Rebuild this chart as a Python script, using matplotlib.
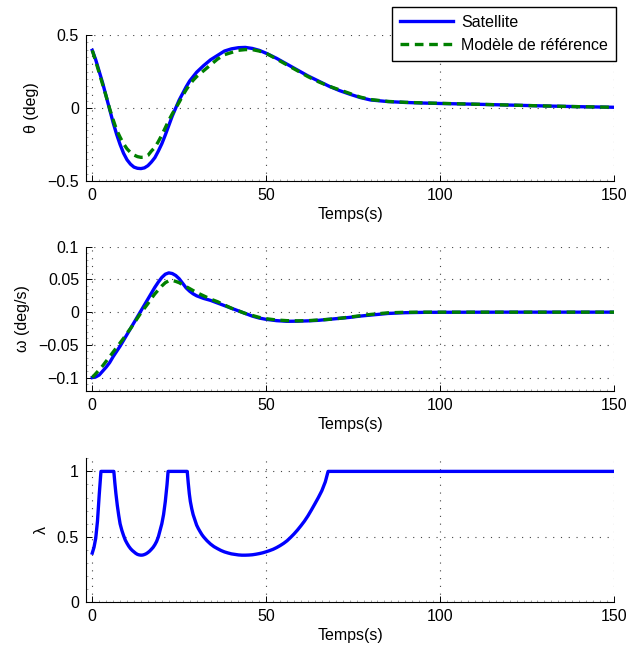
import matplotlib
matplotlib.use("Agg")
import matplotlib.pyplot as plt
from matplotlib.ticker import MultipleLocator

plt.rcParams['font.family'] = ['Liberation Sans', 'DejaVu Sans']

# ---------------- data ----------------
t_theta = [0, 1, 2, 3, 4, 5, 6, 7, 8, 9, 10, 11, 12, 13, 14, 15, 16, 17, 18, 19,
           20, 21, 22, 23, 24, 25, 26, 27, 28, 29, 30, 32, 34, 36, 38, 40, 42, 44,
           46, 48, 50, 53, 56, 59, 62, 65, 68, 71, 74, 77, 80, 85, 90, 95, 100,
           110, 120, 130, 140, 150]

theta_sat = [0.395, 0.33, 0.25, 0.17, 0.08, -0.01, -0.10, -0.18, -0.25, -0.31,
             -0.355, -0.385, -0.405, -0.413, -0.415, -0.41, -0.395, -0.37, -0.34, -0.295,
             -0.245, -0.185, -0.12, -0.055, 0.0, 0.055, 0.10, 0.145, 0.185, 0.215,
             0.245, 0.29, 0.33, 0.36, 0.39, 0.405, 0.413, 0.415,
             0.408, 0.395, 0.375, 0.34, 0.30, 0.26, 0.22, 0.185, 0.15, 0.12, 0.095, 0.072,
             0.055, 0.044, 0.038, 0.034, 0.031, 0.026, 0.02, 0.014, 0.009, 0.005]

theta_ref = [0.395, 0.32, 0.24, 0.16, 0.08, -0.005, -0.08, -0.15, -0.20, -0.245,
             -0.28, -0.305, -0.322, -0.333, -0.338, -0.337, -0.325, -0.295, -0.27, -0.23,
             -0.185, -0.135, -0.085, -0.04, 0.0, 0.04, 0.085, 0.125, 0.16, 0.19,
             0.215, 0.255, 0.295, 0.335, 0.365, 0.38, 0.395, 0.40,
             0.40, 0.39, 0.375, 0.335, 0.295, 0.255, 0.215, 0.18, 0.15, 0.125, 0.1, 0.075,
             0.058, 0.045, 0.039, 0.035, 0.032, 0.026, 0.02, 0.014, 0.009, 0.005]

omega_sat = [-0.100, -0.099, -0.096, -0.09, -0.084, -0.077, -0.068, -0.06, -0.052, -0.043,
             -0.034, -0.025, -0.016, -0.007, 0.002, 0.011, 0.02, 0.029, 0.038, 0.046,
             0.053, 0.058, 0.06, 0.059, 0.056, 0.051, 0.044, 0.037, 0.032, 0.028,
             0.025, 0.021, 0.018, 0.014, 0.010, 0.006, 0.002, -0.002,
             -0.006, -0.009, -0.011, -0.013, -0.014, -0.0138, -0.0133, -0.0125, -0.011,
             -0.0095, -0.008, -0.006, -0.0045, -0.002, -0.0008, -0.0003, -0.0002,
             -0.0001, 0.0, 0.0, 0.0, 0.0]

omega_ref = [-0.100, -0.094, -0.088, -0.082, -0.075, -0.068, -0.061, -0.054, -0.047, -0.04,
             -0.032, -0.025, -0.017, -0.009, -0.001, 0.006, 0.013, 0.021, 0.028, 0.034,
             0.04, 0.045, 0.048, 0.0485, 0.047, 0.045, 0.042, 0.039, 0.036, 0.033,
             0.03, 0.025, 0.02, 0.016, 0.011, 0.006, 0.002, -0.002,
             -0.005, -0.008, -0.010, -0.012, -0.013, -0.0133, -0.013, -0.012, -0.011,
             -0.0095, -0.0075, -0.0055, -0.0035, -0.001, -0.0002, 0.0, 0.0,
             0.0, 0.0, 0.0, 0.0, 0.0]

t_lambda = [0, 0.5, 1, 1.5, 2, 2.5, 6.2, 6.5, 6.8, 7.2, 7.6, 8, 8.5, 9, 9.5, 10, 10.5,
            11, 11.5, 12, 12.5, 13, 13.5, 14, 14.5, 15, 15.5, 16, 16.5, 17, 17.5, 18,
            18.5, 19, 19.5, 20, 20.5, 21, 21.5, 21.8, 27.3, 27.6, 27.9, 28.2, 28.6, 29,
            29.5, 30, 30.5, 31, 31.5, 32, 33, 34, 35, 36, 37, 38, 39, 40, 41, 42, 43,
            44, 45, 46, 47, 48, 49, 50, 51, 52, 53, 54, 55, 56, 57, 58, 59, 60, 61,
            62, 63, 64, 65, 66, 67, 67.8, 150]
lambda_vals = [0.376, 0.42, 0.49, 0.62, 0.82, 1.0, 1.0, 0.91, 0.83, 0.74, 0.665, 0.60,
               0.55, 0.51, 0.475, 0.45, 0.428, 0.41, 0.396, 0.385, 0.374, 0.366, 0.362,
               0.36, 0.361, 0.365, 0.371, 0.38, 0.391, 0.405, 0.42, 0.44, 0.465, 0.50,
               0.55, 0.60, 0.67, 0.77, 0.90, 1.0, 1.0, 0.91, 0.83, 0.77, 0.715, 0.67,
               0.63, 0.59, 0.563, 0.54, 0.518, 0.50, 0.47, 0.445, 0.425, 0.41, 0.396,
               0.385, 0.377, 0.37, 0.366, 0.362, 0.36, 0.36, 0.361, 0.363, 0.367, 0.372,
               0.378, 0.386, 0.395, 0.405, 0.418, 0.433, 0.45, 0.47, 0.495, 0.522, 0.552,
               0.585, 0.62, 0.66, 0.705, 0.752, 0.80, 0.852, 0.92, 1.0, 1.0]

xlabel_text = "Temps(s)"
series_names = ["Satellite", "Modèle de référence"]
ylabels = ["θ (deg)", "ω (deg/s)", "λ"]

# ---------------- figure ----------------
W, H = 630, 651
fig = plt.figure(figsize=(W / 100, H / 100), dpi=100)

def frac(x0, y_top, x1, y_bot):
    return [x0 / W, 1 - y_bot / H, (x1 - x0) / W, (y_bot - y_top) / H]

ax1 = fig.add_axes(frac(86, 35, 614, 181))
ax2 = fig.add_axes(frac(86, 246.7, 614, 390.7))
ax3 = fig.add_axes(frac(86, 458.3, 614, 602.3))

blue = '#0000ff'
green = '#008000'
lw = 2.4
FS = 11.5
dash = (0, (2.6, 1.7))

l1, = ax1.plot(t_theta, theta_sat, color=blue, lw=lw)
l2, = ax1.plot(t_theta, theta_ref, color=green, lw=lw, ls=dash)
ax2.plot(t_theta, omega_sat, color=blue, lw=lw)
ax2.plot(t_theta, omega_ref, color=green, lw=lw, ls=dash)
ax3.plot(t_lambda, lambda_vals, color=blue, lw=lw)

ax1.set_ylim(-0.5, 0.5)
ax1.set_yticks([-0.5, 0, 0.5])
ax1.set_yticklabels(['\u22120.5', '0', '0.5'])
ax1.yaxis.set_minor_locator(MultipleLocator(0.05))

ax2.set_ylim(-0.12, 0.1)
ax2.set_yticks([-0.1, -0.05, 0, 0.05, 0.1])
ax2.set_yticklabels(['\u22120.1', '\u22120.05', '0', '0.05', '0.1'])
ax2.yaxis.set_minor_locator(MultipleLocator(0.01))

ax3.set_ylim(0, 1.1)
ax3.set_yticks([0, 0.5, 1])
ax3.set_yticklabels(['0', '0.5', '1'])
ax3.yaxis.set_minor_locator(MultipleLocator(0.1))

for ax, yl in zip([ax1, ax2, ax3], ylabels):
    ax.set_xlim(-1.8, 150)
    ax.set_xticks([0, 50, 100, 150])
    ax.xaxis.set_minor_locator(MultipleLocator(2))
    ax.spines['top'].set_visible(False)
    ax.spines['right'].set_visible(False)
    ax.spines['left'].set_linewidth(0.8)
    ax.spines['bottom'].set_linewidth(0.8)
    ax.tick_params(which='major', direction='in', length=4, width=0.7,
                   labelsize=FS, pad=5)
    ax.tick_params(which='minor', direction='in', length=1.5, width=0.4,
                   color='#666666')
    ax.grid(True, which='major', ls=(0, (1, 6)), color='#444444', lw=0.8)
    ax.set_xlabel(xlabel_text, fontsize=FS, labelpad=3)
    ax.set_ylabel(yl, fontsize=FS, labelpad=6)

fig.legend([l1, l2], series_names, loc='upper right',
           bbox_to_anchor=(616 / W, 1 - 7 / H), bbox_transform=fig.transFigure,
           fontsize=FS, frameon=True, fancybox=False, edgecolor='black',
           framealpha=1, handlelength=3.3, handletextpad=0.5,
           borderpad=0.5, labelspacing=0.5, borderaxespad=0)

fig.savefig('out.png', dpi=100)
